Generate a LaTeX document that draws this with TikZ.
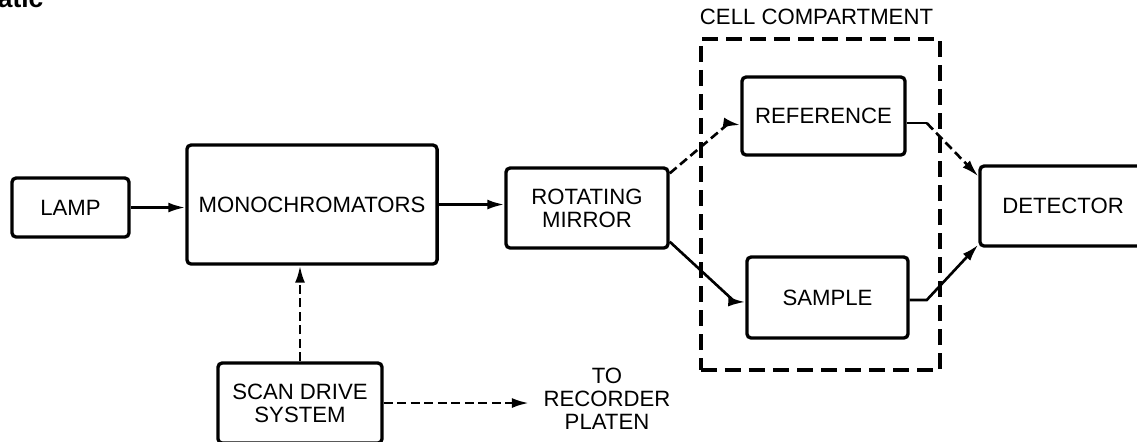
\documentclass[tikz,border=0pt]{standalone}
\usepackage{fontspec}
\setmainfont{Liberation Sans}
\usetikzlibrary{arrows.meta,calc}
\begin{document}
\begin{tikzpicture}[x=0.01cm,y=-0.01cm,
  lbl/.style={font=\fontsize{6.3}{6.6}\selectfont},
  blk/.style={lbl,draw,line width=0.95pt,rounded corners=1.2pt,inner sep=0pt,align=center},
  conn/.style={line width=0.75pt,-{Latex[length=0.17cm,width=0.1cm]}},
  dsh/.style={dash pattern=on 0.09cm off 0.045cm},
  wall/.style={draw,line width=0.95pt,dash pattern=on 0.16cm off 0.08cm,inner sep=0pt}]
\useasboundingbox (0,0) rectangle (1137,441);
\clip (0,0) rectangle (1137,441);

% heading, cut at the top edge
\node[font=\bfseries\fontsize{7.5}{9}\selectfont,anchor=base east,inner sep=0pt] (head) at (44,7) {atic};

% blocks
\node[blk,minimum width=1.17cm,minimum height=0.59cm] (lamp) at (70.5,207.5) {LAMP};
\node[blk,minimum width=2.50cm,minimum height=1.19cm] (mono) at (312,204.5) {MONOCHROMATORS};
\node[blk,minimum width=1.62cm,minimum height=0.80cm] (mirror) at (587,208) {ROTATING\\MIRROR};
\node[blk,minimum width=1.63cm,minimum height=0.78cm] (ref) at (823.5,116) {REFERENCE};
\node[blk,minimum width=1.61cm,minimum height=0.81cm] (sample) at (827.5,297.5) {SAMPLE};
\node[blk,minimum width=1.66cm,minimum height=0.80cm] (det) at (1063,206) {DETECTOR};
\node[blk,minimum width=1.64cm,minimum height=0.80cm] (scan) at (300,403) {SCAN DRIVE\\SYSTEM};

% cell compartment
\node[wall,minimum width=2.39cm,minimum height=3.31cm] (cell) at (820.5,204.5) {};
\node[lbl,anchor=base west,inner sep=0pt] (celltitle) at ([yshift=0.125cm]cell.north west) {CELL COMPARTMENT};

% recorder note
\node[lbl,align=center,inner xsep=0.14cm,inner ysep=0pt] (rec) at (607,399) {TO\\RECORDER\\PLATEN};

% light path
\draw[conn] (lamp.east) -- (lamp.east -| mono.west);
\draw[conn] (mono.east) -- (mono.east -| mirror.west);
\draw[conn,dsh] ([yshift=-0.07cm]mirror.north east) -- ++(59,-50) -- ([yshift=-0.09cm]ref.west);
\draw[conn] ([yshift=0.08cm]mirror.south east) -- ++(65,60) -- ([yshift=-0.045cm]sample.west);
\draw[line width=0.75pt] ([yshift=-0.07cm]ref.east) -- ++(20,0) coordinate (refk);
\draw[conn,dsh] (refk) -- ([yshift=-0.12cm]det.north west);
\draw[conn] ([yshift=-0.025cm]sample.east) -- ++(17,0) -- ([yshift=0.03cm]det.south west);

% scan drive links
\draw[conn,dsh] (scan.north) -- (scan.north |- mono.south);
\draw[conn,dsh] (scan.east) -- (scan.east -| rec.west);
\end{tikzpicture}
\end{document}
